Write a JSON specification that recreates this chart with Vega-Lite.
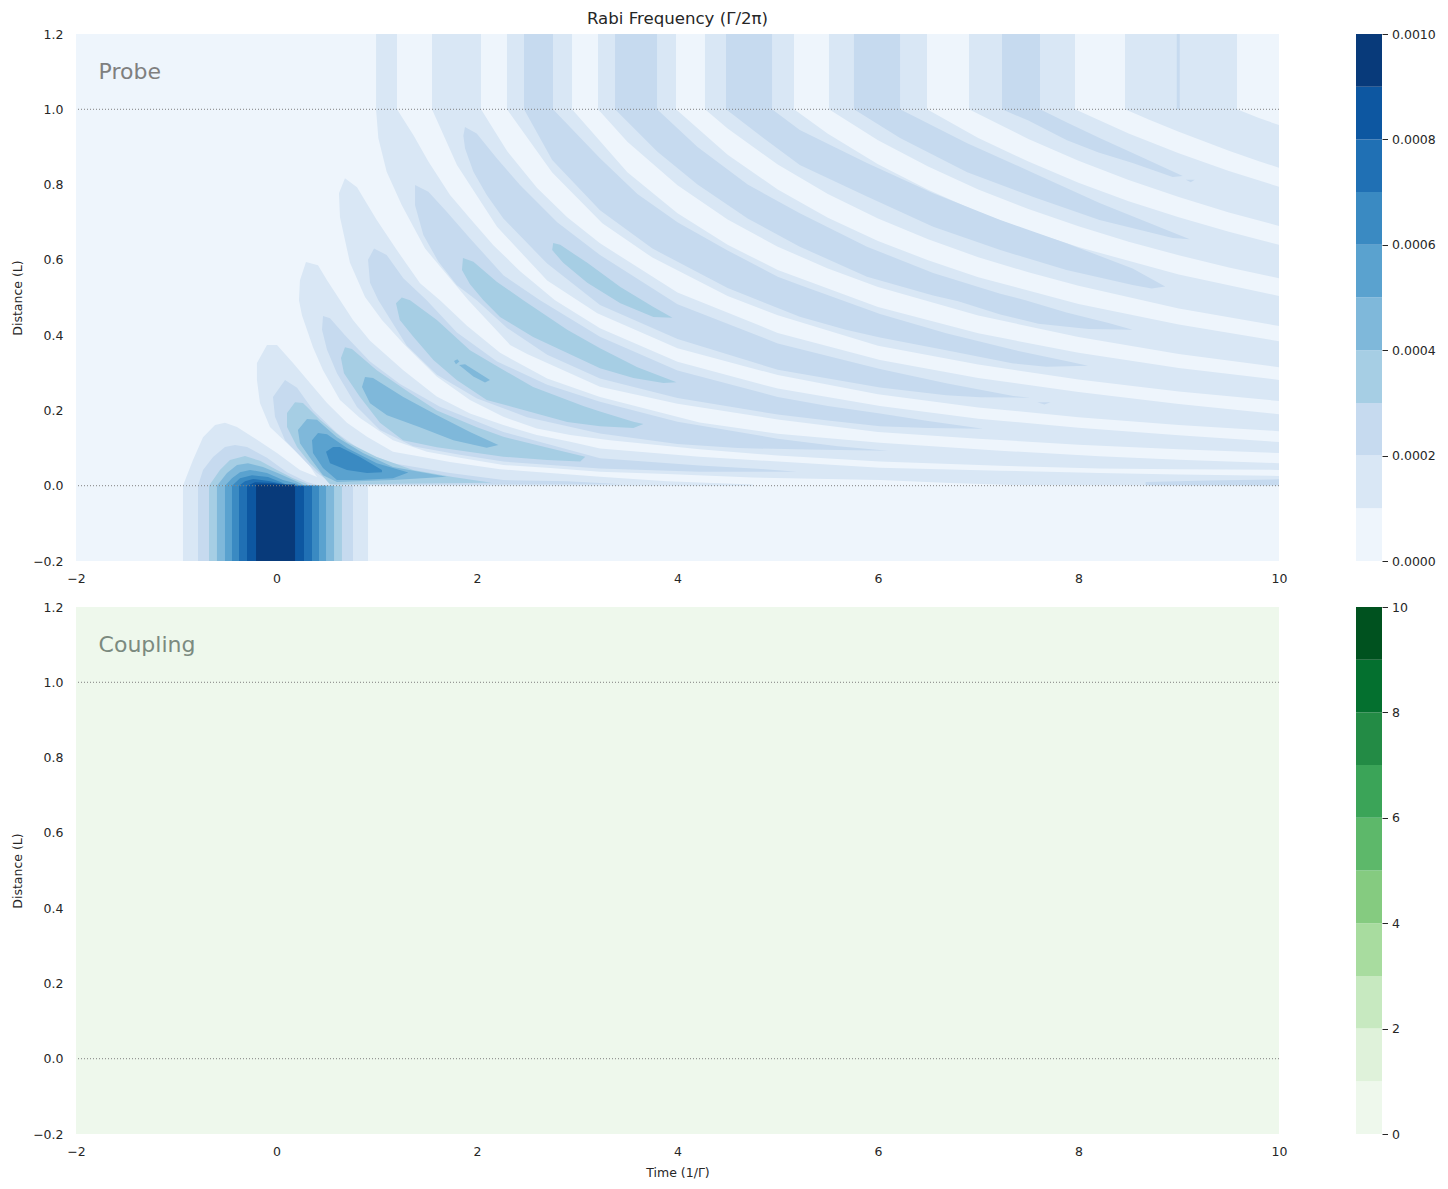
{"$schema":"https://vega.github.io/schema/vega-lite/v6.json","background":"white","padding":{"left":11,"top":11,"right":0,"bottom":0},
"config":{"view":{"stroke":null},"font":"DejaVu Sans","axis":{"grid":false,"domain":false,"labelColor":"#262626","titleColor":"#262626","labelFontSize":12.5,"titleFontSize":12.5,"titleFontWeight":"normal","ticks":false,"labelFlush":false}},
"resolve":{"scale":{"color":"independent"}},
"datasets":{"probe":[
{"p":"s8","l":1,"t":8.464,"z":1.2},{"p":"s8","l":1,"t":9.581,"z":1.2},{"p":"s8","l":1,"t":9.581,"z":1},{"p":"s8","l":1,"t":9.8,"z":0.977},{"p":"s8","l":1,"t":10,"z":0.958},{"p":"s8","l":1,"t":10,"z":0.845},{"p":"s8","l":1,"t":9.8,"z":0.862},{"p":"s8","l":1,"t":9.5,"z":0.89},{"p":"s8","l":1,"t":9,"z":0.94},{"p":"s8","l":1,"t":8.7,"z":0.973},{"p":"s8","l":1,"t":8.464,"z":1},
{"p":"s7","l":1,"t":6.908,"z":1.2},{"p":"s7","l":1,"t":7.965,"z":1.2},{"p":"s7","l":1,"t":7.965,"z":1},{"p":"s7","l":1,"t":8.5,"z":0.936},{"p":"s7","l":1,"t":9,"z":0.883},{"p":"s7","l":1,"t":9.5,"z":0.836},{"p":"s7","l":1,"t":10,"z":0.794},{"p":"s7","l":1,"t":10,"z":0.69},{"p":"s7","l":1,"t":9.5,"z":0.726},{"p":"s7","l":1,"t":9,"z":0.767},{"p":"s7","l":1,"t":8.5,"z":0.812},{"p":"s7","l":1,"t":8,"z":0.863},{"p":"s7","l":1,"t":7.5,"z":0.921},{"p":"s7","l":1,"t":6.908,"z":1},
{"p":"s6","l":1,"t":5.511,"z":1.2},{"p":"s6","l":1,"t":6.489,"z":1.2},{"p":"s6","l":1,"t":6.489,"z":1},{"p":"s6","l":1,"t":7,"z":0.924},{"p":"s6","l":1,"t":7.5,"z":0.861},{"p":"s6","l":1,"t":8,"z":0.805},{"p":"s6","l":1,"t":8.5,"z":0.756},{"p":"s6","l":1,"t":9,"z":0.713},{"p":"s6","l":1,"t":9.5,"z":0.675},{"p":"s6","l":1,"t":10,"z":0.64},{"p":"s6","l":1,"t":10,"z":0.551},{"p":"s6","l":1,"t":9.5,"z":0.58},{"p":"s6","l":1,"t":9,"z":0.612},{"p":"s6","l":1,"t":8.5,"z":0.648},{"p":"s6","l":1,"t":8,"z":0.689},{"p":"s6","l":1,"t":7.5,"z":0.735},{"p":"s6","l":1,"t":7,"z":0.787},{"p":"s6","l":1,"t":6.5,"z":0.848},{"p":"s6","l":1,"t":6,"z":0.918},{"p":"s6","l":1,"t":5.511,"z":1},
{"p":"s5","l":1,"t":4.274,"z":1.2},{"p":"s5","l":1,"t":5.162,"z":1.2},{"p":"s5","l":1,"t":5.162,"z":1},{"p":"s5","l":1,"t":5.5,"z":0.935},{"p":"s5","l":1,"t":6,"z":0.854},{"p":"s5","l":1,"t":6.5,"z":0.786},{"p":"s5","l":1,"t":7,"z":0.727},{"p":"s5","l":1,"t":7.5,"z":0.677},{"p":"s5","l":1,"t":8,"z":0.634},{"p":"s5","l":1,"t":9,"z":0.561},{"p":"s5","l":1,"t":10,"z":0.504},{"p":"s5","l":1,"t":10,"z":0.424},{"p":"s5","l":1,"t":9,"z":0.471},{"p":"s5","l":1,"t":8,"z":0.531},{"p":"s5","l":1,"t":7.5,"z":0.567},{"p":"s5","l":1,"t":7,"z":0.607},{"p":"s5","l":1,"t":6.5,"z":0.655},{"p":"s5","l":1,"t":6,"z":0.71},{"p":"s5","l":1,"t":5.5,"z":0.775},{"p":"s5","l":1,"t":5,"z":0.853},{"p":"s5","l":1,"t":4.5,"z":0.949},{"p":"s5","l":1,"t":4.274,"z":1},
{"p":"s4","l":1,"t":3.207,"z":1.2},{"p":"s4","l":1,"t":3.985,"z":1.2},{"p":"s4","l":1,"t":3.985,"z":1},{"p":"s4","l":1,"t":4.5,"z":0.879},{"p":"s4","l":1,"t":5,"z":0.787},{"p":"s4","l":1,"t":5.5,"z":0.712},{"p":"s4","l":1,"t":6,"z":0.65},{"p":"s4","l":1,"t":6.5,"z":0.599},{"p":"s4","l":1,"t":7,"z":0.554},{"p":"s4","l":1,"t":8,"z":0.483},{"p":"s4","l":1,"t":9,"z":0.428},{"p":"s4","l":1,"t":10,"z":0.384},{"p":"s4","l":1,"t":10,"z":0.315},{"p":"s4","l":1,"t":9,"z":0.35},{"p":"s4","l":1,"t":8,"z":0.395},{"p":"s4","l":1,"t":7,"z":0.452},{"p":"s4","l":1,"t":6,"z":0.528},{"p":"s4","l":1,"t":5.5,"z":0.577},{"p":"s4","l":1,"t":5,"z":0.635},{"p":"s4","l":1,"t":4.5,"z":0.707},{"p":"s4","l":1,"t":4,"z":0.798},{"p":"s4","l":1,"t":3.5,"z":0.914},{"p":"s4","l":1,"t":3.207,"z":1},
{"p":"s3","l":1,"t":2.299,"z":1.2},{"p":"s3","l":1,"t":2.948,"z":1.2},{"p":"s3","l":1,"t":2.948,"z":1},{"p":"s3","l":1,"t":3.5,"z":0.833},{"p":"s3","l":1,"t":4,"z":0.724},{"p":"s3","l":1,"t":4.5,"z":0.64},{"p":"s3","l":1,"t":5,"z":0.573},{"p":"s3","l":1,"t":6,"z":0.475},{"p":"s3","l":1,"t":7,"z":0.405},{"p":"s3","l":1,"t":8,"z":0.353},{"p":"s3","l":1,"t":9,"z":0.313},{"p":"s3","l":1,"t":10,"z":0.281},{"p":"s3","l":1,"t":10,"z":0.225},{"p":"s3","l":1,"t":9,"z":0.25},{"p":"s3","l":1,"t":8,"z":0.282},{"p":"s3","l":1,"t":7,"z":0.322},{"p":"s3","l":1,"t":6,"z":0.372},{"p":"s3","l":1,"t":5,"z":0.453},{"p":"s3","l":1,"t":4.5,"z":0.504},{"p":"s3","l":1,"t":3.75,"z":0.606},{"p":"s3","l":1,"t":3.25,"z":0.697},{"p":"s3","l":1,"t":2.75,"z":0.832},{"p":"s3","l":1,"t":2.299,"z":1},
{"p":"s2","l":1,"t":1.551,"z":1.2},{"p":"s2","l":1,"t":2.04,"z":1.2},{"p":"s2","l":1,"t":2.04,"z":1},{"p":"s2","l":1,"t":2.3,"z":0.889},{"p":"s2","l":1,"t":2.6,"z":0.791},{"p":"s2","l":1,"t":2.9,"z":0.713},{"p":"s2","l":1,"t":3.227,"z":0.644},{"p":"s2","l":1,"t":4,"z":0.513},{"p":"s2","l":1,"t":5,"z":0.406},{"p":"s2","l":1,"t":6.02,"z":0.334},{"p":"s2","l":1,"t":7,"z":0.286},{"p":"s2","l":1,"t":8,"z":0.249},{"p":"s2","l":1,"t":9,"z":0.217},{"p":"s2","l":1,"t":10,"z":0.19},{"p":"s2","l":1,"t":10,"z":0.145},{"p":"s2","l":1,"t":9,"z":0.161},{"p":"s2","l":1,"t":8,"z":0.182},{"p":"s2","l":1,"t":7,"z":0.208},{"p":"s2","l":1,"t":6,"z":0.243},{"p":"s2","l":1,"t":5,"z":0.294},{"p":"s2","l":1,"t":4,"z":0.365},{"p":"s2","l":1,"t":3.2,"z":0.458},{"p":"s2","l":1,"t":2.7,"z":0.545},{"p":"s2","l":1,"t":2.2,"z":0.688},{"p":"s2","l":1,"t":1.8,"z":0.852},{"p":"s2","l":1,"t":1.551,"z":1},
{"p":"s1","l":1,"t":0.993,"z":1.2},{"p":"s1","l":1,"t":1.202,"z":1.2},{"p":"s1","l":1,"t":1.202,"z":1},{"p":"s1","l":1,"t":1.365,"z":0.932},{"p":"s1","l":1,"t":1.515,"z":0.861},{"p":"s1","l":1,"t":1.731,"z":0.772},{"p":"s1","l":1,"t":1.931,"z":0.71},{"p":"s1","l":1,"t":2.163,"z":0.639},{"p":"s1","l":1,"t":2.43,"z":0.57},{"p":"s1","l":1,"t":2.778,"z":0.493},{"p":"s1","l":1,"t":3.227,"z":0.418},{"p":"s1","l":1,"t":4,"z":0.329},{"p":"s1","l":1,"t":5,"z":0.258},{"p":"s1","l":1,"t":6.02,"z":0.212},{"p":"s1","l":1,"t":7,"z":0.178},{"p":"s1","l":1,"t":8,"z":0.154},{"p":"s1","l":1,"t":9,"z":0.134},{"p":"s1","l":1,"t":10,"z":0.116},{"p":"s1","l":1,"t":10,"z":0.087},{"p":"s1","l":1,"t":9,"z":0.097},{"p":"s1","l":1,"t":8,"z":0.109},{"p":"s1","l":1,"t":7,"z":0.125},{"p":"s1","l":1,"t":6,"z":0.143},{"p":"s1","l":1,"t":5,"z":0.176},{"p":"s1","l":1,"t":4,"z":0.218},{"p":"s1","l":1,"t":3.227,"z":0.263},{"p":"s1","l":1,"t":2.5,"z":0.35},{"p":"s1","l":1,"t":2.33,"z":0.374},{"p":"s1","l":1,"t":1.914,"z":0.493},{"p":"s1","l":1,"t":1.482,"z":0.63},{"p":"s1","l":1,"t":1.249,"z":0.746},{"p":"s1","l":1,"t":1.099,"z":0.834},{"p":"s1","l":1,"t":1.016,"z":0.923},{"p":"s1","l":1,"t":0.993,"z":1},
{"p":"d1","l":1,"t":0.683,"z":0.817},{"p":"d1","l":1,"t":0.803,"z":0.793},{"p":"d1","l":1,"t":1,"z":0.706},{"p":"d1","l":1,"t":1.2,"z":0.626},{"p":"d1","l":1,"t":1.432,"z":0.538},{"p":"d1","l":1,"t":1.631,"z":0.493},{"p":"d1","l":1,"t":1.9,"z":0.425},{"p":"d1","l":1,"t":2.23,"z":0.353},{"p":"d1","l":1,"t":2.7,"z":0.285},{"p":"d1","l":1,"t":3.227,"z":0.236},{"p":"d1","l":1,"t":4.22,"z":0.168},{"p":"d1","l":1,"t":5,"z":0.138},{"p":"d1","l":1,"t":6.02,"z":0.114},{"p":"d1","l":1,"t":7.22,"z":0.093},{"p":"d1","l":1,"t":8.21,"z":0.078},{"p":"d1","l":1,"t":9,"z":0.069},{"p":"d1","l":1,"t":10,"z":0.06},{"p":"d1","l":1,"t":10,"z":0.042},{"p":"d1","l":1,"t":9,"z":0.044},{"p":"d1","l":1,"t":8.21,"z":0.046},{"p":"d1","l":1,"t":7.22,"z":0.053},{"p":"d1","l":1,"t":6.02,"z":0.064},{"p":"d1","l":1,"t":5,"z":0.08},{"p":"d1","l":1,"t":4.22,"z":0.097},{"p":"d1","l":1,"t":3.327,"z":0.121},{"p":"d1","l":1,"t":2.93,"z":0.135},{"p":"d1","l":1,"t":2.596,"z":0.152},{"p":"d1","l":1,"t":2.263,"z":0.183},{"p":"d1","l":1,"t":1.93,"z":0.228},{"p":"d1","l":1,"t":1.598,"z":0.29},{"p":"d1","l":1,"t":1.265,"z":0.378},{"p":"d1","l":1,"t":1.052,"z":0.44},{"p":"d1","l":1,"t":0.883,"z":0.501},{"p":"d1","l":1,"t":0.733,"z":0.592},{"p":"d1","l":1,"t":0.633,"z":0.714},{"p":"d1","l":1,"t":0.623,"z":0.777},
{"p":"c1","l":1,"t":0.294,"z":0.594},{"p":"c1","l":1,"t":0.414,"z":0.586},{"p":"c1","l":1,"t":0.504,"z":0.546},{"p":"c1","l":1,"t":0.763,"z":0.44},{"p":"c1","l":1,"t":0.933,"z":0.385},{"p":"c1","l":1,"t":1.265,"z":0.307},{"p":"c1","l":1,"t":1.598,"z":0.237},{"p":"c1","l":1,"t":1.93,"z":0.192},{"p":"c1","l":1,"t":2.263,"z":0.161},{"p":"c1","l":1,"t":2.596,"z":0.135},{"p":"c1","l":1,"t":2.93,"z":0.117},{"p":"c1","l":1,"t":3.227,"z":0.099},{"p":"c1","l":1,"t":4.22,"z":0.077},{"p":"c1","l":1,"t":6.02,"z":0.048},{"p":"c1","l":1,"t":7.22,"z":0.04},{"p":"c1","l":1,"t":8.21,"z":0.034},{"p":"c1","l":1,"t":9,"z":0.03},{"p":"c1","l":1,"t":10,"z":0.026},{"p":"c1","l":1,"t":10,"z":0},{"p":"c1","l":1,"t":7.35,"z":0.002},{"p":"c1","l":1,"t":6.72,"z":0.007},{"p":"c1","l":1,"t":6.02,"z":0.015},{"p":"c1","l":1,"t":4.75,"z":0.022},{"p":"c1","l":1,"t":3.895,"z":0.031},{"p":"c1","l":1,"t":3.227,"z":0.037},{"p":"c1","l":1,"t":2.73,"z":0.047},{"p":"c1","l":1,"t":2.263,"z":0.055},{"p":"c1","l":1,"t":1.83,"z":0.074},{"p":"c1","l":1,"t":1.501,"z":0.09},{"p":"c1","l":1,"t":1.162,"z":0.121},{"p":"c1","l":1,"t":0.833,"z":0.18},{"p":"c1","l":1,"t":0.633,"z":0.228},{"p":"c1","l":1,"t":0.464,"z":0.307},{"p":"c1","l":1,"t":0.364,"z":0.368},{"p":"c1","l":1,"t":0.304,"z":0.414},{"p":"c1","l":1,"t":0.254,"z":0.453},{"p":"c1","l":1,"t":0.224,"z":0.493},{"p":"c1","l":1,"t":0.234,"z":0.546},
{"p":"a1","l":1,"t":-0.933,"z":0},{"p":"a1","l":1,"t":-0.833,"z":0.068},{"p":"a1","l":1,"t":-0.733,"z":0.129},{"p":"a1","l":1,"t":-0.613,"z":0.161},{"p":"a1","l":1,"t":-0.514,"z":0.167},{"p":"a1","l":1,"t":-0.394,"z":0.156},{"p":"a1","l":1,"t":-0.234,"z":0.129},{"p":"a1","l":1,"t":0.005,"z":0.087},{"p":"a1","l":1,"t":0.234,"z":0.042},{"p":"a1","l":1,"t":0.404,"z":0.023},{"p":"a1","l":1,"t":0.304,"z":0.063},{"p":"a1","l":1,"t":0.105,"z":0.113},{"p":"a1","l":1,"t":-0.065,"z":0.156},{"p":"a1","l":1,"t":-0.165,"z":0.22},{"p":"a1","l":1,"t":-0.195,"z":0.281},{"p":"a1","l":1,"t":-0.195,"z":0.326},{"p":"a1","l":1,"t":-0.095,"z":0.374},{"p":"a1","l":1,"t":0.005,"z":0.374},{"p":"a1","l":1,"t":0.165,"z":0.326},{"p":"a1","l":1,"t":0.334,"z":0.273},{"p":"a1","l":1,"t":0.504,"z":0.22},{"p":"a1","l":1,"t":0.703,"z":0.167},{"p":"a1","l":1,"t":0.903,"z":0.13},{"p":"a1","l":1,"t":1.162,"z":0.09},{"p":"a1","l":1,"t":1.5,"z":0.074},{"p":"a1","l":1,"t":1.73,"z":0.063},{"p":"a1","l":1,"t":2.23,"z":0.044},{"p":"a1","l":1,"t":2.43,"z":0.04},{"p":"a1","l":1,"t":3.227,"z":0.024},{"p":"a1","l":1,"t":3.895,"z":0.012},{"p":"a1","l":1,"t":4.75,"z":0.003},{"p":"a1","l":1,"t":4.75,"z":0},
{"p":"r1","l":1,"t":-0.933,"z":-0.2},{"p":"r1","l":1,"t":0.913,"z":-0.2},{"p":"r1","l":1,"t":0.913,"z":0},{"p":"r1","l":1,"t":-0.933,"z":0},
{"p":"r2","l":2,"t":-0.783,"z":-0.2},{"p":"r2","l":2,"t":0.763,"z":-0.2},{"p":"r2","l":2,"t":0.763,"z":0},{"p":"r2","l":2,"t":-0.783,"z":0},
{"p":"a2","l":2,"t":-0.783,"z":0},{"p":"a2","l":2,"t":-0.733,"z":0.042},{"p":"a2","l":2,"t":-0.633,"z":0.076},{"p":"a2","l":2,"t":-0.514,"z":0.103},{"p":"a2","l":2,"t":-0.414,"z":0.108},{"p":"a2","l":2,"t":-0.294,"z":0.103},{"p":"a2","l":2,"t":-0.095,"z":0.074},{"p":"a2","l":2,"t":0.105,"z":0.036},{"p":"a2","l":2,"t":0.304,"z":0.01},{"p":"a2","l":2,"t":0.434,"z":0},
{"p":"s72","l":2,"t":7.237,"z":1.2},{"p":"s72","l":2,"t":7.616,"z":1.2},{"p":"s72","l":2,"t":7.616,"z":1},{"p":"s72","l":2,"t":7.9,"z":0.963},{"p":"s72","l":2,"t":8.216,"z":0.923},{"p":"s72","l":2,"t":8.54,"z":0.884},{"p":"s72","l":2,"t":9.04,"z":0.823},{"p":"s72","l":2,"t":8.94,"z":0.82},{"p":"s72","l":2,"t":8.54,"z":0.857},{"p":"s72","l":2,"t":8.2,"z":0.885},{"p":"s72","l":2,"t":7.885,"z":0.918},{"p":"s72","l":2,"t":7.5,"z":0.97},{"p":"s72","l":2,"t":7.237,"z":1},
{"p":"b72","l":2,"t":9.07,"z":0.813},{"p":"b72","l":2,"t":9.16,"z":0.813},{"p":"b72","l":2,"t":9.12,"z":0.806},
{"p":"s82","l":2,"t":8.98,"z":1.2},{"p":"s82","l":2,"t":9.01,"z":1.2},{"p":"s82","l":2,"t":9.01,"z":1},{"p":"s82","l":2,"t":8.98,"z":1},
{"p":"s62","l":2,"t":5.76,"z":1.2},{"p":"s62","l":2,"t":6.22,"z":1.2},{"p":"s62","l":2,"t":6.22,"z":1},{"p":"s62","l":2,"t":6.89,"z":0.91},{"p":"s62","l":2,"t":7.55,"z":0.831},{"p":"s62","l":2,"t":8.21,"z":0.751},{"p":"s62","l":2,"t":8.88,"z":0.679},{"p":"s62","l":2,"t":9.11,"z":0.655},{"p":"s62","l":2,"t":8.94,"z":0.658},{"p":"s62","l":2,"t":8.21,"z":0.706},{"p":"s62","l":2,"t":7.55,"z":0.767},{"p":"s62","l":2,"t":6.89,"z":0.833},{"p":"s62","l":2,"t":6.22,"z":0.924},{"p":"s62","l":2,"t":5.76,"z":1},
{"p":"s52","l":2,"t":4.484,"z":1.2},{"p":"s52","l":2,"t":4.943,"z":1.2},{"p":"s52","l":2,"t":4.943,"z":1},{"p":"s52","l":2,"t":5.22,"z":0.945},{"p":"s52","l":2,"t":5.89,"z":0.857},{"p":"s52","l":2,"t":6.55,"z":0.777},{"p":"s52","l":2,"t":7.22,"z":0.706},{"p":"s52","l":2,"t":7.88,"z":0.644},{"p":"s52","l":2,"t":8.54,"z":0.577},{"p":"s52","l":2,"t":8.865,"z":0.529},{"p":"s52","l":2,"t":8.73,"z":0.524},{"p":"s52","l":2,"t":8.54,"z":0.533},{"p":"s52","l":2,"t":7.88,"z":0.573},{"p":"s52","l":2,"t":7.22,"z":0.626},{"p":"s52","l":2,"t":6.55,"z":0.688},{"p":"s52","l":2,"t":5.89,"z":0.768},{"p":"s52","l":2,"t":5.22,"z":0.852},{"p":"s52","l":2,"t":4.85,"z":0.925},{"p":"s52","l":2,"t":4.484,"z":1},
{"p":"s42","l":2,"t":3.377,"z":1.2},{"p":"s42","l":2,"t":3.796,"z":1.2},{"p":"s42","l":2,"t":3.796,"z":1},{"p":"s42","l":2,"t":4.2,"z":0.9},{"p":"s42","l":2,"t":4.7,"z":0.8},{"p":"s42","l":2,"t":5.22,"z":0.724},{"p":"s42","l":2,"t":5.89,"z":0.635},{"p":"s42","l":2,"t":6.55,"z":0.565},{"p":"s42","l":2,"t":7.22,"z":0.51},{"p":"s42","l":2,"t":7.47,"z":0.493},{"p":"s42","l":2,"t":7.88,"z":0.46},{"p":"s42","l":2,"t":8.3,"z":0.432},{"p":"s42","l":2,"t":8.54,"z":0.414},{"p":"s42","l":2,"t":8.1,"z":0.416},{"p":"s42","l":2,"t":7.6,"z":0.43},{"p":"s42","l":2,"t":7.22,"z":0.455},{"p":"s42","l":2,"t":6.8,"z":0.49},{"p":"s42","l":2,"t":6.55,"z":0.505},{"p":"s42","l":2,"t":5.89,"z":0.555},{"p":"s42","l":2,"t":5.22,"z":0.635},{"p":"s42","l":2,"t":4.7,"z":0.71},{"p":"s42","l":2,"t":4.2,"z":0.8},{"p":"s42","l":2,"t":3.8,"z":0.887},{"p":"s42","l":2,"t":3.377,"z":1},
{"p":"s32","l":2,"t":2.469,"z":1.2},{"p":"s32","l":2,"t":2.758,"z":1.2},{"p":"s32","l":2,"t":2.758,"z":1},{"p":"s32","l":2,"t":3.227,"z":0.87},{"p":"s32","l":2,"t":3.6,"z":0.775},{"p":"s32","l":2,"t":4,"z":0.7},{"p":"s32","l":2,"t":4.5,"z":0.625},{"p":"s32","l":2,"t":5,"z":0.555},{"p":"s32","l":2,"t":5.22,"z":0.533},{"p":"s32","l":2,"t":6.02,"z":0.456},{"p":"s32","l":2,"t":6.68,"z":0.405},{"p":"s32","l":2,"t":7.35,"z":0.361},{"p":"s32","l":2,"t":7.9,"z":0.33},{"p":"s32","l":2,"t":8.095,"z":0.319},{"p":"s32","l":2,"t":7.68,"z":0.316},{"p":"s32","l":2,"t":7.35,"z":0.325},{"p":"s32","l":2,"t":6.68,"z":0.36},{"p":"s32","l":2,"t":6.02,"z":0.394},{"p":"s32","l":2,"t":5.68,"z":0.414},{"p":"s32","l":2,"t":5.22,"z":0.449},{"p":"s32","l":2,"t":4.5,"z":0.525},{"p":"s32","l":2,"t":3.75,"z":0.63},{"p":"s32","l":2,"t":3.227,"z":0.732},{"p":"s32","l":2,"t":2.75,"z":0.865},{"p":"s32","l":2,"t":2.469,"z":1},
{"p":"s22","l":2,"t":1.88,"z":0.953},{"p":"s22","l":2,"t":1.997,"z":0.936},{"p":"s22","l":2,"t":2.197,"z":0.87},{"p":"s22","l":2,"t":2.429,"z":0.799},{"p":"s22","l":2,"t":2.8,"z":0.7},{"p":"s22","l":2,"t":3.227,"z":0.613},{"p":"s22","l":2,"t":4,"z":0.482},{"p":"s22","l":2,"t":5,"z":0.378},{"p":"s22","l":2,"t":6.02,"z":0.31},{"p":"s22","l":2,"t":6.68,"z":0.272},{"p":"s22","l":2,"t":7.35,"z":0.238},{"p":"s22","l":2,"t":7.52,"z":0.234},{"p":"s22","l":2,"t":7.02,"z":0.235},{"p":"s22","l":2,"t":6.68,"z":0.24},{"p":"s22","l":2,"t":6.02,"z":0.261},{"p":"s22","l":2,"t":5,"z":0.308},{"p":"s22","l":2,"t":4,"z":0.39},{"p":"s22","l":2,"t":3.227,"z":0.48},{"p":"s22","l":2,"t":2.7,"z":0.59},{"p":"s22","l":2,"t":2.263,"z":0.71},{"p":"s22","l":2,"t":2.097,"z":0.772},{"p":"s22","l":2,"t":1.964,"z":0.834},{"p":"s22","l":2,"t":1.881,"z":0.896},{"p":"s22","l":2,"t":1.864,"z":0.93},
{"p":"b22","l":2,"t":7.59,"z":0.222},{"p":"b22","l":2,"t":7.72,"z":0.222},{"p":"b22","l":2,"t":7.66,"z":0.216},
{"p":"e2","l":2,"t":1.382,"z":0.799},{"p":"e2","l":2,"t":1.515,"z":0.781},{"p":"e2","l":2,"t":1.698,"z":0.728},{"p":"e2","l":2,"t":1.931,"z":0.657},{"p":"e2","l":2,"t":2.263,"z":0.559},{"p":"e2","l":2,"t":2.629,"z":0.493},{"p":"e2","l":2,"t":3.227,"z":0.396},{"p":"e2","l":2,"t":4,"z":0.306},{"p":"e2","l":2,"t":5,"z":0.236},{"p":"e2","l":2,"t":5.5,"z":0.212},{"p":"e2","l":2,"t":6.02,"z":0.192},{"p":"e2","l":2,"t":6.5,"z":0.172},{"p":"e2","l":2,"t":7.05,"z":0.151},{"p":"e2","l":2,"t":6.5,"z":0.153},{"p":"e2","l":2,"t":6.02,"z":0.158},{"p":"e2","l":2,"t":5.5,"z":0.173},{"p":"e2","l":2,"t":5,"z":0.189},{"p":"e2","l":2,"t":4,"z":0.233},{"p":"e2","l":2,"t":3.227,"z":0.285},{"p":"e2","l":2,"t":2.7,"z":0.348},{"p":"e2","l":2,"t":2.3,"z":0.419},{"p":"e2","l":2,"t":1.997,"z":0.493},{"p":"e2","l":2,"t":1.797,"z":0.533},{"p":"e2","l":2,"t":1.615,"z":0.595},{"p":"e2","l":2,"t":1.465,"z":0.666},{"p":"e2","l":2,"t":1.382,"z":0.745},
{"p":"d2","l":2,"t":0.973,"z":0.63},{"p":"d2","l":2,"t":1.099,"z":0.613},{"p":"d2","l":2,"t":1.265,"z":0.551},{"p":"d2","l":2,"t":1.498,"z":0.493},{"p":"d2","l":2,"t":1.8,"z":0.407},{"p":"d2","l":2,"t":2.2,"z":0.33},{"p":"d2","l":2,"t":2.7,"z":0.268},{"p":"d2","l":2,"t":3.227,"z":0.223},{"p":"d2","l":2,"t":4,"z":0.17},{"p":"d2","l":2,"t":5,"z":0.125},{"p":"d2","l":2,"t":5.6,"z":0.105},{"p":"d2","l":2,"t":6.1,"z":0.093},{"p":"d2","l":2,"t":5.3,"z":0.096},{"p":"d2","l":2,"t":4.6,"z":0.1},{"p":"d2","l":2,"t":4,"z":0.111},{"p":"d2","l":2,"t":3.227,"z":0.139},{"p":"d2","l":2,"t":2.5,"z":0.182},{"p":"d2","l":2,"t":2,"z":0.232},{"p":"d2","l":2,"t":1.6,"z":0.295},{"p":"d2","l":2,"t":1.3,"z":0.372},{"p":"d2","l":2,"t":1.016,"z":0.493},{"p":"d2","l":2,"t":0.933,"z":0.539},{"p":"d2","l":2,"t":0.913,"z":0.6},
{"p":"c2","l":2,"t":0.464,"z":0.451},{"p":"c2","l":2,"t":0.534,"z":0.445},{"p":"c2","l":2,"t":0.683,"z":0.4},{"p":"c2","l":2,"t":0.933,"z":0.33},{"p":"c2","l":2,"t":1.232,"z":0.27},{"p":"c2","l":2,"t":1.63,"z":0.21},{"p":"c2","l":2,"t":2.263,"z":0.143},{"p":"c2","l":2,"t":3.227,"z":0.073},{"p":"c2","l":2,"t":4.22,"z":0.054},{"p":"c2","l":2,"t":4.8,"z":0.045},{"p":"c2","l":2,"t":5.19,"z":0.037},{"p":"c2","l":2,"t":4.22,"z":0.037},{"p":"c2","l":2,"t":3.227,"z":0.046},{"p":"c2","l":2,"t":2.263,"z":0.064},{"p":"c2","l":2,"t":1.83,"z":0.082},{"p":"c2","l":2,"t":1.362,"z":0.105},{"p":"c2","l":2,"t":1.032,"z":0.148},{"p":"c2","l":2,"t":0.803,"z":0.209},{"p":"c2","l":2,"t":0.603,"z":0.299},{"p":"c2","l":2,"t":0.504,"z":0.361},{"p":"c2","l":2,"t":0.454,"z":0.414},
{"p":"b2","l":2,"t":0.085,"z":0.281},{"p":"b2","l":2,"t":0.205,"z":0.26},{"p":"b2","l":2,"t":0.364,"z":0.201},{"p":"b2","l":2,"t":0.603,"z":0.14},{"p":"b2","l":2,"t":0.863,"z":0.09},{"p":"b2","l":2,"t":1.162,"z":0.06},{"p":"b2","l":2,"t":1.73,"z":0.034},{"p":"b2","l":2,"t":2.263,"z":0.015},{"p":"b2","l":2,"t":2.9,"z":0.012},{"p":"b2","l":2,"t":3.456,"z":0.004},{"p":"b2","l":2,"t":0.58,"z":0.002},{"p":"b2","l":2,"t":0.404,"z":0.034},{"p":"b2","l":2,"t":0.304,"z":0.06},{"p":"b2","l":2,"t":0.085,"z":0.121},{"p":"b2","l":2,"t":-0.015,"z":0.183},{"p":"b2","l":2,"t":-0.035,"z":0.236},
{"p":"f2","l":2,"t":8.67,"z":0.01},{"p":"f2","l":2,"t":9.3,"z":0.014},{"p":"f2","l":2,"t":10,"z":0.017},{"p":"f2","l":2,"t":10,"z":0.001},{"p":"f2","l":2,"t":8.67,"z":0.001},
{"p":"r3","l":3,"t":-0.673,"z":-0.2},{"p":"r3","l":3,"t":0.653,"z":-0.2},{"p":"r3","l":3,"t":0.653,"z":0},{"p":"r3","l":3,"t":-0.673,"z":0},
{"p":"a3","l":3,"t":-0.673,"z":0},{"p":"a3","l":3,"t":-0.564,"z":0.042},{"p":"a3","l":3,"t":-0.464,"z":0.068},{"p":"a3","l":3,"t":-0.314,"z":0.079},{"p":"a3","l":3,"t":-0.165,"z":0.066},{"p":"a3","l":3,"t":0.005,"z":0.042},{"p":"a3","l":3,"t":0.165,"z":0.02},{"p":"a3","l":3,"t":0.304,"z":0.005},{"p":"a3","l":3,"t":0.32,"z":0},
{"p":"s23","l":3,"t":2.76,"z":0.645},{"p":"s23","l":3,"t":2.83,"z":0.64},{"p":"s23","l":3,"t":3.1,"z":0.592},{"p":"s23","l":3,"t":3.43,"z":0.528},{"p":"s23","l":3,"t":3.76,"z":0.475},{"p":"s23","l":3,"t":3.95,"z":0.446},{"p":"s23","l":3,"t":3.76,"z":0.448},{"p":"s23","l":3,"t":3.43,"z":0.485},{"p":"s23","l":3,"t":3.1,"z":0.539},{"p":"s23","l":3,"t":2.86,"z":0.592},{"p":"s23","l":3,"t":2.75,"z":0.626},
{"p":"e3","l":3,"t":1.86,"z":0.605},{"p":"e3","l":3,"t":1.964,"z":0.595},{"p":"e3","l":3,"t":2.197,"z":0.542},{"p":"e3","l":3,"t":2.462,"z":0.493},{"p":"e3","l":3,"t":2.9,"z":0.414},{"p":"e3","l":3,"t":3.227,"z":0.365},{"p":"e3","l":3,"t":3.6,"z":0.315},{"p":"e3","l":3,"t":3.99,"z":0.275},{"p":"e3","l":3,"t":3.86,"z":0.273},{"p":"e3","l":3,"t":3.56,"z":0.286},{"p":"e3","l":3,"t":3.227,"z":0.312},{"p":"e3","l":3,"t":2.56,"z":0.395},{"p":"e3","l":3,"t":2.23,"z":0.448},{"p":"e3","l":3,"t":2.064,"z":0.493},{"p":"e3","l":3,"t":1.93,"z":0.535},{"p":"e3","l":3,"t":1.85,"z":0.573},
{"p":"d3","l":3,"t":1.25,"z":0.5},{"p":"d3","l":3,"t":1.332,"z":0.493},{"p":"d3","l":3,"t":1.6,"z":0.44},{"p":"d3","l":3,"t":1.93,"z":0.36},{"p":"d3","l":3,"t":2.23,"z":0.313},{"p":"d3","l":3,"t":2.56,"z":0.262},{"p":"d3","l":3,"t":3.06,"z":0.212},{"p":"d3","l":3,"t":3.227,"z":0.197},{"p":"d3","l":3,"t":3.56,"z":0.17},{"p":"d3","l":3,"t":3.66,"z":0.164},{"p":"d3","l":3,"t":3.56,"z":0.153},{"p":"d3","l":3,"t":3.227,"z":0.158},{"p":"d3","l":3,"t":2.9,"z":0.169},{"p":"d3","l":3,"t":2.097,"z":0.228},{"p":"d3","l":3,"t":1.797,"z":0.281},{"p":"d3","l":3,"t":1.565,"z":0.334},{"p":"d3","l":3,"t":1.365,"z":0.396},{"p":"d3","l":3,"t":1.23,"z":0.44},{"p":"d3","l":3,"t":1.192,"z":0.485},
{"p":"c3","l":3,"t":0.683,"z":0.368},{"p":"c3","l":3,"t":0.753,"z":0.363},{"p":"c3","l":3,"t":1,"z":0.307},{"p":"c3","l":3,"t":1.332,"z":0.246},{"p":"c3","l":3,"t":1.6,"z":0.2},{"p":"c3","l":3,"t":2,"z":0.155},{"p":"c3","l":3,"t":2.263,"z":0.13},{"p":"c3","l":3,"t":2.8,"z":0.095},{"p":"c3","l":3,"t":3.08,"z":0.077},{"p":"c3","l":3,"t":3.03,"z":0.064},{"p":"c3","l":3,"t":2.7,"z":0.068},{"p":"c3","l":3,"t":2.263,"z":0.077},{"p":"c3","l":3,"t":1.6,"z":0.102},{"p":"c3","l":3,"t":1.262,"z":0.121},{"p":"c3","l":3,"t":1.032,"z":0.167},{"p":"c3","l":3,"t":0.833,"z":0.236},{"p":"c3","l":3,"t":0.673,"z":0.299},{"p":"c3","l":3,"t":0.643,"z":0.339},
{"p":"b3","l":3,"t":0.185,"z":0.222},{"p":"b3","l":3,"t":0.264,"z":0.22},{"p":"b3","l":3,"t":0.434,"z":0.175},{"p":"b3","l":3,"t":0.703,"z":0.116},{"p":"b3","l":3,"t":1,"z":0.076},{"p":"b3","l":3,"t":1.362,"z":0.042},{"p":"b3","l":3,"t":1.76,"z":0.023},{"p":"b3","l":3,"t":2.147,"z":0.008},{"p":"b3","l":3,"t":0.534,"z":0.003},{"p":"b3","l":3,"t":0.434,"z":0.034},{"p":"b3","l":3,"t":0.334,"z":0.06},{"p":"b3","l":3,"t":0.205,"z":0.103},{"p":"b3","l":3,"t":0.105,"z":0.156},{"p":"b3","l":3,"t":0.105,"z":0.193},
{"p":"r4","l":4,"t":-0.594,"z":-0.2},{"p":"r4","l":4,"t":0.574,"z":-0.2},{"p":"r4","l":4,"t":0.574,"z":0},{"p":"r4","l":4,"t":-0.594,"z":0},
{"p":"a4","l":4,"t":-0.594,"z":0},{"p":"a4","l":4,"t":-0.494,"z":0.034},{"p":"a4","l":4,"t":-0.394,"z":0.055},{"p":"a4","l":4,"t":-0.284,"z":0.06},{"p":"a4","l":4,"t":-0.135,"z":0.05},{"p":"a4","l":4,"t":0.035,"z":0.031},{"p":"a4","l":4,"t":0.234,"z":0.007},{"p":"a4","l":4,"t":0.28,"z":0},
{"p":"d4","l":4,"t":1.821,"z":0.321},{"p":"d4","l":4,"t":1.881,"z":0.323},{"p":"d4","l":4,"t":2.13,"z":0.281},{"p":"d4","l":4,"t":2.08,"z":0.274},{"p":"d4","l":4,"t":1.964,"z":0.29},
{"p":"d5","l":4,"t":1.771,"z":0.331},{"p":"d5","l":4,"t":1.804,"z":0.336},{"p":"d5","l":4,"t":1.824,"z":0.33},{"p":"d5","l":4,"t":1.79,"z":0.323},
{"p":"c4","l":4,"t":0.883,"z":0.289},{"p":"c4","l":4,"t":0.963,"z":0.286},{"p":"c4","l":4,"t":1.265,"z":0.236},{"p":"c4","l":4,"t":1.598,"z":0.188},{"p":"c4","l":4,"t":1.93,"z":0.143},{"p":"c4","l":4,"t":2.213,"z":0.108},{"p":"c4","l":4,"t":2.097,"z":0.101},{"p":"c4","l":4,"t":1.764,"z":0.121},{"p":"c4","l":4,"t":1.43,"z":0.155},{"p":"c4","l":4,"t":1.102,"z":0.187},{"p":"c4","l":4,"t":0.933,"z":0.219},{"p":"c4","l":4,"t":0.853,"z":0.262},
{"p":"b4","l":4,"t":0.304,"z":0.177},{"p":"b4","l":4,"t":0.404,"z":0.175},{"p":"b4","l":4,"t":0.603,"z":0.129},{"p":"b4","l":4,"t":0.863,"z":0.087},{"p":"b4","l":4,"t":1.162,"z":0.05},{"p":"b4","l":4,"t":1.698,"z":0.024},{"p":"b4","l":4,"t":1.162,"z":0.015},{"p":"b4","l":4,"t":0.603,"z":0.01},{"p":"b4","l":4,"t":0.464,"z":0.028},{"p":"b4","l":4,"t":0.334,"z":0.074},{"p":"b4","l":4,"t":0.234,"z":0.113},{"p":"b4","l":4,"t":0.214,"z":0.148},
{"p":"r5","l":5,"t":-0.514,"z":-0.2},{"p":"r5","l":5,"t":0.494,"z":-0.2},{"p":"r5","l":5,"t":0.494,"z":0},{"p":"r5","l":5,"t":-0.514,"z":0},
{"p":"a5","l":5,"t":-0.514,"z":0},{"p":"a5","l":5,"t":-0.444,"z":0.02},{"p":"a5","l":5,"t":-0.364,"z":0.036},{"p":"a5","l":5,"t":-0.264,"z":0.042},{"p":"a5","l":5,"t":-0.095,"z":0.034},{"p":"a5","l":5,"t":0.065,"z":0.015},{"p":"a5","l":5,"t":0.205,"z":0.005},{"p":"a5","l":5,"t":0.23,"z":0},
{"p":"b5","l":5,"t":0.414,"z":0.14},{"p":"b5","l":5,"t":0.504,"z":0.137},{"p":"b5","l":5,"t":0.703,"z":0.1},{"p":"b5","l":5,"t":1,"z":0.06},{"p":"b5","l":5,"t":1.315,"z":0.035},{"p":"b5","l":5,"t":1.162,"z":0.02},{"p":"b5","l":5,"t":0.833,"z":0.015},{"p":"b5","l":5,"t":0.603,"z":0.015},{"p":"b5","l":5,"t":0.464,"z":0.047},{"p":"b5","l":5,"t":0.364,"z":0.087},{"p":"b5","l":5,"t":0.354,"z":0.121},
{"p":"r6","l":6,"t":-0.444,"z":-0.2},{"p":"r6","l":6,"t":0.424,"z":-0.2},{"p":"r6","l":6,"t":0.424,"z":0},{"p":"r6","l":6,"t":-0.444,"z":0},
{"p":"a6","l":6,"t":-0.444,"z":0},{"p":"a6","l":6,"t":-0.364,"z":0.02},{"p":"a6","l":6,"t":-0.244,"z":0.028},{"p":"a6","l":6,"t":-0.085,"z":0.023},{"p":"a6","l":6,"t":0.065,"z":0.007},{"p":"a6","l":6,"t":0.12,"z":0},
{"p":"b6","l":6,"t":0.564,"z":0.103},{"p":"b6","l":6,"t":0.633,"z":0.103},{"p":"b6","l":6,"t":0.833,"z":0.076},{"p":"b6","l":6,"t":1.052,"z":0.042},{"p":"b6","l":6,"t":1.052,"z":0.036},{"p":"b6","l":6,"t":0.903,"z":0.034},{"p":"b6","l":6,"t":0.703,"z":0.042},{"p":"b6","l":6,"t":0.534,"z":0.06},{"p":"b6","l":6,"t":0.494,"z":0.09},
{"p":"r7","l":7,"t":-0.374,"z":-0.2},{"p":"r7","l":7,"t":0.354,"z":-0.2},{"p":"r7","l":7,"t":0.354,"z":0},{"p":"r7","l":7,"t":-0.374,"z":0},
{"p":"a7","l":7,"t":-0.374,"z":0},{"p":"a7","l":7,"t":-0.314,"z":0.012},{"p":"a7","l":7,"t":-0.234,"z":0.018},{"p":"a7","l":7,"t":-0.065,"z":0.012},{"p":"a7","l":7,"t":0.055,"z":0.005},{"p":"a7","l":7,"t":0.1,"z":0},
{"p":"r8","l":8,"t":-0.294,"z":-0.2},{"p":"r8","l":8,"t":0.274,"z":-0.2},{"p":"r8","l":8,"t":0.274,"z":0},{"p":"r8","l":8,"t":-0.294,"z":0},
{"p":"a8","l":8,"t":-0.294,"z":0},{"p":"a8","l":8,"t":-0.214,"z":0.009},{"p":"a8","l":8,"t":-0.035,"z":0.007},{"p":"a8","l":8,"t":0.115,"z":0},
{"p":"r9","l":9,"t":-0.204,"z":-0.2},{"p":"r9","l":9,"t":0.185,"z":-0.2},{"p":"r9","l":9,"t":0.185,"z":0.003},{"p":"r9","l":9,"t":-0.204,"z":0.003}
]},
"vconcat":[
{"spacing":69,"hconcat":[
{"width":1203,"height":527,"title":{"text":"Rabi Frequency (Γ/2π)","fontSize":16.6,"fontWeight":"normal","color":"#262626","anchor":"middle","offset":0},
"layer":[
{"data":{"values":[{"t0":-2,"t1":10,"z0":-0.2,"z1":1.2,"l":0}]},"mark":{"type":"rect"},"encoding":{"x":{"field":"t0","type":"quantitative","scale":{"domain":[-2,10],"nice":false},"axis":{"title":null,"values":[-2,0,2,4,6,8,10],"labelPadding":11,"labelExpr":"replace(format(datum.value,'d'),'-','−')"}},"x2":{"field":"t1"},"y":{"field":"z0","type":"quantitative","scale":{"domain":[-0.2,1.2],"nice":false},"axis":{"title":"Distance (L)","values":[-0.2,0,0.2,0.4,0.6,0.8,1,1.2],"labelPadding":13,"titlePadding":8,"labelExpr":"replace(format(datum.value,'.1f'),'-','−')"}},"y2":{"field":"z1"},"color":{"field":"l","type":"nominal","legend":null,"scale":{"domain":[0,1,2,3,4,5,6,7,8,9],"range":["#eef5fc","#d9e7f5","#c6daef","#a6cee4","#7fb8da","#5aa2cf","#3a8ac2","#2070b4","#0d57a1","#083a7a"]}}}},
{"data":{"name":"probe"},"transform":[{"window":[{"op":"row_number","as":"i"}]}],"mark":{"type":"line","filled":true,"clip":true,"strokeWidth":0},"encoding":{"x":{"field":"t","type":"quantitative"},"y":{"field":"z","type":"quantitative"},"detail":{"field":"p"},"order":{"field":"i","type":"quantitative"},"color":{"field":"l","type":"nominal"}}},
{"data":{"values":[{"z":0},{"z":1}]},"mark":{"type":"rule","color":"#7f7f7f","strokeDash":[1,2],"strokeWidth":1},"encoding":{"y":{"field":"z","type":"quantitative"}}},
{"data":{"values":[{"t":-1.775,"z":1.098,"s":"Probe"}]},"mark":{"type":"text","align":"left","baseline":"middle","fontSize":22,"color":"#7f7f7f"},"encoding":{"x":{"field":"t","type":"quantitative"},"y":{"field":"z","type":"quantitative"},"text":{"field":"s"}}}
]},
{"width":26,"height":527,"data":{"values":[{"a":0,"b":0.0001,"l":0},{"a":0.0001,"b":0.0002,"l":1},{"a":0.0002,"b":0.0003,"l":2},{"a":0.0003,"b":0.0004,"l":3},{"a":0.0004,"b":0.0005,"l":4},{"a":0.0005,"b":0.0006,"l":5},{"a":0.0006,"b":0.0007,"l":6},{"a":0.0007,"b":0.0008,"l":7},{"a":0.0008,"b":0.0009,"l":8},{"a":0.0009,"b":0.001,"l":9}]},"mark":{"type":"rect"},"encoding":{"y":{"field":"a","type":"quantitative","scale":{"domain":[0,0.001],"nice":false},"axis":{"orient":"right","title":null,"values":[0,0.0002,0.0004,0.0006,0.0008,0.001],"format":".4f","ticks":true,"tickSize":5.5,"tickColor":"#262626","labelPadding":4}},"y2":{"field":"b"},"color":{"field":"l","type":"nominal","legend":null,"scale":{"domain":[0,1,2,3,4,5,6,7,8,9],"range":["#eef5fc","#d9e7f5","#c6daef","#a6cee4","#7fb8da","#5aa2cf","#3a8ac2","#2070b4","#0d57a1","#083a7a"]}}}}
]},
{"spacing":69,"hconcat":[
{"width":1203,"height":527,
"layer":[
{"data":{"values":[{"t0":-2,"t1":10,"z0":-0.2,"z1":1.2,"l":0}]},"mark":{"type":"rect"},"encoding":{"x":{"field":"t0","type":"quantitative","scale":{"domain":[-2,10],"nice":false},"axis":{"title":"Time (1/Γ)","values":[-2,0,2,4,6,8,10],"labelPadding":11,"titlePadding":9,"labelExpr":"replace(format(datum.value,'d'),'-','−')"}},"x2":{"field":"t1"},"y":{"field":"z0","type":"quantitative","scale":{"domain":[-0.2,1.2],"nice":false},"axis":{"title":"Distance (L)","values":[-0.2,0,0.2,0.4,0.6,0.8,1,1.2],"labelPadding":13,"titlePadding":8,"labelExpr":"replace(format(datum.value,'.1f'),'-','−')"}},"y2":{"field":"z1"},"color":{"field":"l","type":"nominal","legend":null,"scale":{"domain":[0,1,2,3,4,5,6,7,8,9],"range":["#eef8ec","#dff2da","#c7e9c0","#a8dc9f","#85cb80","#5db86a","#3ba458","#238b45","#04702f","#00521f"]}}}},
{"data":{"values":[{"z":0},{"z":1}]},"mark":{"type":"rule","color":"#7f7f7f","strokeDash":[1,2],"strokeWidth":1},"encoding":{"y":{"field":"z","type":"quantitative"}}},
{"data":{"values":[{"t":-1.775,"z":1.098,"s":"Coupling"}]},"mark":{"type":"text","align":"left","baseline":"middle","fontSize":22,"color":"#7b8a7f"},"encoding":{"x":{"field":"t","type":"quantitative"},"y":{"field":"z","type":"quantitative"},"text":{"field":"s"}}}
]},
{"width":26,"height":527,"data":{"values":[{"a":0,"b":1,"l":0},{"a":1,"b":2,"l":1},{"a":2,"b":3,"l":2},{"a":3,"b":4,"l":3},{"a":4,"b":5,"l":4},{"a":5,"b":6,"l":5},{"a":6,"b":7,"l":6},{"a":7,"b":8,"l":7},{"a":8,"b":9,"l":8},{"a":9,"b":10,"l":9}]},"mark":{"type":"rect"},"encoding":{"y":{"field":"a","type":"quantitative","scale":{"domain":[0,10],"nice":false},"axis":{"orient":"right","title":null,"values":[0,2,4,6,8,10],"ticks":true,"tickSize":5.5,"tickColor":"#262626","labelPadding":4}},"y2":{"field":"b"},"color":{"field":"l","type":"nominal","legend":null,"scale":{"domain":[0,1,2,3,4,5,6,7,8,9],"range":["#eef8ec","#dff2da","#c7e9c0","#a8dc9f","#85cb80","#5db86a","#3ba458","#238b45","#04702f","#00521f"]}}}}
]}
],"spacing":16}
